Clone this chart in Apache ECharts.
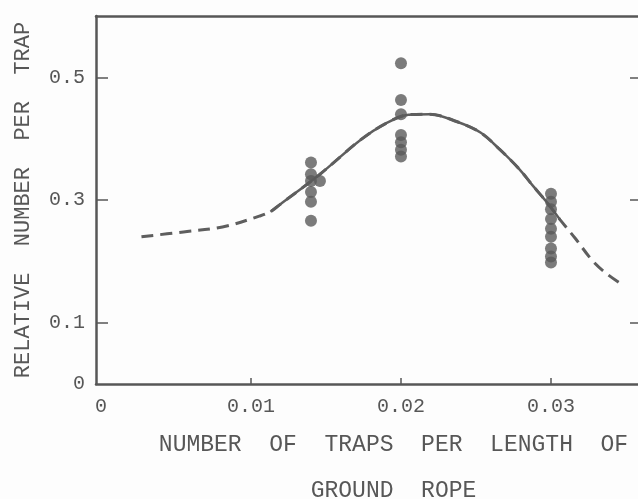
<!DOCTYPE html>
<html>
<head>
<meta charset="utf-8">
<script src="https://cdn.jsdelivr.net/npm/echarts@6/dist/echarts.min.js"></script>
<style>
  html, body { margin: 0; padding: 0; background: #fdfdfd; }
  #main { width: 638px; height: 499px; }
</style>
</head>
<body>
<div id="main"></div>
<script>
// observed catches: traps per length of ground rope vs relative number per trap
var pointX = [0.014, 0.014, 0.014, 0.0146, 0.014, 0.014, 0.014,
  0.02, 0.02, 0.02, 0.02, 0.02, 0.02, 0.02,
  0.03, 0.03, 0.03, 0.03, 0.03, 0.03, 0.03, 0.03, 0.03];
var pointY = [0.361, 0.342, 0.331, 0.331, 0.313, 0.297, 0.266,
  0.523, 0.463, 0.440, 0.406, 0.394, 0.382, 0.371,
  0.310, 0.297, 0.285, 0.269, 0.253, 0.240, 0.221, 0.208, 0.198];

// fitted curve: dashed (extrapolated) on both ends, solid in between
var curveLeftX = [0.0027, 0.0055, 0.0081, 0.0106];
var curveLeftY = [0.240, 0.248, 0.256, 0.274];
var curveMidX = [0.0113, 0.0119, 0.0146, 0.0173, 0.0190, 0.0205, 0.0219, 0.0237, 0.0253, 0.0266, 0.0279, 0.0288, 0.0297, 0.0306];
var curveMidY = [0.281, 0.292, 0.342, 0.398, 0.425, 0.439, 0.440, 0.428, 0.410, 0.382, 0.350, 0.323, 0.297, 0.268];
var curveRightX = [0.0316, 0.0328, 0.0337, 0.0348];
var curveRightY = [0.238, 0.200, 0.180, 0.161];

var xTickLabels = [0, 0.01, 0.02, 0.03];
var yTickLabels = [0, 0.1, 0.3, 0.5];

function zip(xs, ys) {
  return xs.map(function (x, i) { return [x, ys[i]]; });
}

var ink = '#575757';
var font = 'Liberation Mono';

var chart = echarts.init(document.getElementById('main'), null, { renderer: 'canvas' });
chart.setOption({
  backgroundColor: '#fdfdfd',
  animation: false,
  grid: { left: 96, top: 16, right: -3, bottom: 115, outerBoundsMode: 'none', containLabel: false },
  xAxis: [{
    type: 'value',
    min: -0.00033,
    max: 0.036,
    position: 'bottom',
    name: 'NUMBER  OF  TRAPS  PER  LENGTH  OF\nGROUND  ROPE',
    nameLocation: 'middle',
    nameGap: 23,
    nameTextStyle: { fontFamily: font, fontSize: 23, color: ink, lineHeight: 46, padding: [0, 0, 0, 50] },
    axisLine: { onZero: false, lineStyle: { color: ink, width: 2.5 } },
    axisTick: { inside: true, length: 6, customValues: [0.01, 0.02, 0.03], lineStyle: { color: ink, width: 1.5 } },
    axisLabel: {
      customValues: xTickLabels,
      margin: 13,
      fontFamily: font, fontSize: 20, color: ink,
      formatter: function (v) { return v === 0 ? '0' : v.toFixed(2); }
    },
    splitLine: { show: false }
  }, {
    type: 'value',
    min: -0.00033,
    max: 0.036,
    position: 'top',
    axisLine: { show: true, onZero: false, lineStyle: { color: ink, width: 2.5 } },
    axisTick: { show: false },
    axisLabel: { show: false },
    splitLine: { show: false }
  }],
  yAxis: [{
    type: 'value',
    min: 0,
    max: 0.6,
    position: 'left',
    name: 'RELATIVE  NUMBER  PER  TRAP',
    nameLocation: 'middle',
    nameGap: 62,
    nameTextStyle: { fontFamily: font, fontSize: 22, color: ink },
    axisLine: { show: true, onZero: false, lineStyle: { color: ink, width: 2.5 } },
    axisTick: { show: true, inside: true, length: 12, customValues: [0.1, 0.3, 0.5], lineStyle: { color: ink, width: 1.5 } },
    axisLabel: {
      customValues: yTickLabels,
      margin: 11,
      fontFamily: font, fontSize: 20, color: ink,
      formatter: function (v) { return v === 0 ? '0' : v.toFixed(1); }
    },
    splitLine: { show: false }
  }, {
    type: 'value',
    min: 0,
    max: 0.6,
    position: 'right',
    axisLine: { show: true, onZero: false, lineStyle: { color: ink, width: 2.5 } },
    axisTick: { show: true, inside: true, length: 11, customValues: [0.1, 0.3, 0.5], lineStyle: { color: ink, width: 1.5 } },
    axisLabel: { show: false },
    splitLine: { show: false }
  }],
  series: [{
    // whole fitted curve, dashed; solid part is drawn over it
    type: 'line',
    data: zip(curveLeftX.concat(curveMidX, curveRightX), curveLeftY.concat(curveMidY, curveRightY)),
    smooth: 0.35,
    symbol: 'none',
    lineStyle: { color: '#5e5e5e', width: 3, type: [12, 7] },
    z: 2
  }, {
    type: 'line',
    data: zip(curveMidX, curveMidY),
    smooth: 0.35,
    symbol: 'none',
    lineStyle: { color: '#5e5e5e', width: 2.5 },
    z: 2
  }, {
    type: 'scatter',
    data: zip(pointX, pointY),
    symbol: 'circle',
    symbolSize: 12,
    itemStyle: { color: '#5a5a5a' },
    z: 3
  }]
});
</script>
</body>
</html>
